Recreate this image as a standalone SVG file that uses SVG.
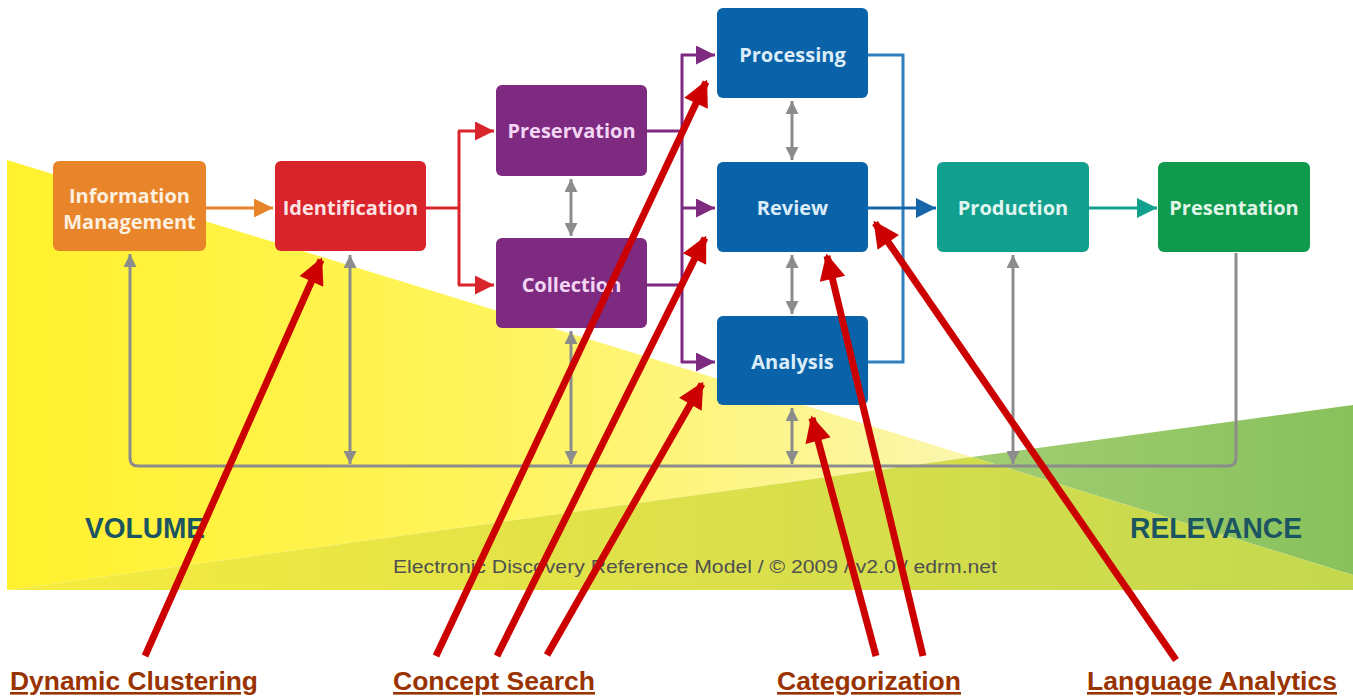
<svg xmlns="http://www.w3.org/2000/svg" width="1353" height="698" viewBox="0 0 1353 698">
<style>
.node rect{rx:6;ry:6}
.nt{font-family:"Open Sans","Liberation Sans",sans-serif;font-weight:700;font-size:20px;text-anchor:middle}
.lbl{font-family:"Liberation Sans",Arial,sans-serif;font-weight:700;font-size:26px;fill:#993300;text-decoration:underline}
.big{font-family:"Liberation Sans",Arial,sans-serif;font-weight:700;font-size:29px;fill:#1b5561}
.gray{stroke:#8c8c8c;stroke-width:3;fill:none}
.ann{stroke:#cc0000;stroke-width:7;fill:none;marker-end:url(#mAnn)}
</style>
<defs>
<linearGradient id="gY" x1="7" y1="0" x2="972" y2="0" gradientUnits="userSpaceOnUse">
<stop offset="0" stop-color="#fff12c"/><stop offset="0.5" stop-color="#fff45c"/><stop offset="1" stop-color="#fbf6ae"/>
</linearGradient>
<linearGradient id="gL" x1="7" y1="0" x2="1353" y2="0" gradientUnits="userSpaceOnUse">
<stop offset="0" stop-color="#f6ec3e"/><stop offset="0.5" stop-color="#dde04a"/><stop offset="1" stop-color="#c3d84e"/>
</linearGradient>
<linearGradient id="gG" x1="972" y1="0" x2="1353" y2="0" gradientUnits="userSpaceOnUse">
<stop offset="0" stop-color="#a2cd72"/><stop offset="1" stop-color="#88c15c"/>
</linearGradient>
<marker id="mOr" viewBox="0 0 10 10" refX="10" refY="5" markerWidth="25" markerHeight="19" markerUnits="userSpaceOnUse" orient="auto"><path d="M0,0 L10,5 L0,10 z" fill="#e8852a"/></marker>
<marker id="mRd" viewBox="0 0 10 10" refX="10" refY="5" markerWidth="25" markerHeight="19" markerUnits="userSpaceOnUse" orient="auto"><path d="M0,0 L10,5 L0,10 z" fill="#d9242b"/></marker>
<marker id="mPu" viewBox="0 0 10 10" refX="10" refY="5" markerWidth="25" markerHeight="19" markerUnits="userSpaceOnUse" orient="auto"><path d="M0,0 L10,5 L0,10 z" fill="#7d2a80"/></marker>
<marker id="mBl" viewBox="0 0 10 10" refX="10" refY="5" markerWidth="26" markerHeight="20" markerUnits="userSpaceOnUse" orient="auto"><path d="M0,0 L10,5 L0,10 z" fill="#1565a8"/></marker>
<marker id="mTe" viewBox="0 0 10 10" refX="10" refY="5" markerWidth="26" markerHeight="20" markerUnits="userSpaceOnUse" orient="auto"><path d="M0,0 L10,5 L0,10 z" fill="#11a08d"/></marker>
<marker id="mGr" viewBox="0 0 10 10" refX="10" refY="5" markerWidth="16" markerHeight="13" markerUnits="userSpaceOnUse" orient="auto-start-reverse"><path d="M0,0 L10,5 L0,10 z" fill="#8c8c8c"/></marker>
<marker id="mAnn" viewBox="0 0 10 10" refX="9" refY="5" markerWidth="30" markerHeight="26" markerUnits="userSpaceOnUse" orient="auto"><path d="M0,0 L10,5 L0,10 z" fill="#cc0000"/></marker>
</defs>
<rect width="1353" height="698" fill="#ffffff"/>
<g id="background">
<polygon points="7,160 972,457 7,590" fill="url(#gY)"/>
<polygon points="972,457 1353,405 1353,575" fill="url(#gG)"/>
<polygon points="7,590 972,457 1353,575 1353,590" fill="url(#gL)"/>
<text class="big" x="85" y="538" textLength="120" lengthAdjust="spacingAndGlyphs">VOLUME</text>
<text class="big" x="1130" y="538" textLength="172" lengthAdjust="spacingAndGlyphs">RELEVANCE</text>
<text x="393" y="573" font-family="Liberation Sans, Arial, sans-serif" font-size="18" fill="#505050" textLength="604" lengthAdjust="spacingAndGlyphs">Electronic Discovery Reference Model / © 2009 / v2.0 / edrm.net</text>
</g>
<g id="connectors">
<path d="M206,208 H273" stroke="#e8852a" stroke-width="3" fill="none" marker-end="url(#mOr)"/>
<path d="M426,208 H459 M459,131 V285" stroke="#d9242b" stroke-width="3" fill="none"/>
<path d="M458,131 H494" stroke="#d9242b" stroke-width="3" fill="none" marker-end="url(#mRd)"/>
<path d="M458,285 H494" stroke="#d9242b" stroke-width="3" fill="none" marker-end="url(#mRd)"/>
<path d="M647,131 H682 M647,285 H682 M682,54 V363" stroke="#7d2a80" stroke-width="3" fill="none"/>
<path d="M681,55 H715" stroke="#7d2a80" stroke-width="3" fill="none" marker-end="url(#mPu)"/>
<path d="M681,208 H715" stroke="#7d2a80" stroke-width="3" fill="none" marker-end="url(#mPu)"/>
<path d="M681,362 H715" stroke="#7d2a80" stroke-width="3" fill="none" marker-end="url(#mPu)"/>
<path d="M868,55 H903 V362 H868" stroke="#2f7fbf" stroke-width="3" fill="none"/>
<path d="M868,208 H936" stroke="#1565a8" stroke-width="3" fill="none" marker-end="url(#mBl)"/>
<path d="M1089,208 H1157" stroke="#11a08d" stroke-width="3" fill="none" marker-end="url(#mTe)"/>
<path class="gray" d="M130,254 V458 Q130,466 138,466 H1228 Q1236,466 1236,458 V253" marker-start="url(#mGr)"/>
<path class="gray" d="M350,255 V464" marker-start="url(#mGr)" marker-end="url(#mGr)"/>
<path class="gray" d="M571,331 V464" marker-start="url(#mGr)" marker-end="url(#mGr)"/>
<path class="gray" d="M792,408 V464" marker-start="url(#mGr)" marker-end="url(#mGr)"/>
<path class="gray" d="M1013,255 V464" marker-start="url(#mGr)" marker-end="url(#mGr)"/>
<path class="gray" d="M571,179 V236" marker-start="url(#mGr)" marker-end="url(#mGr)"/>
<path class="gray" d="M792,101 V160" marker-start="url(#mGr)" marker-end="url(#mGr)"/>
<path class="gray" d="M792,255 V314" marker-start="url(#mGr)" marker-end="url(#mGr)"/>
</g>
<g id="n-info" class="node"><rect x="53" y="161" width="153" height="90" fill="#e8852a"/><text class="nt" fill="#fdf0e0" x="129.5" y="203">Information</text><text class="nt" fill="#fdf0e0" x="129.5" y="229">Management</text></g>
<g id="n-ident" class="node"><rect x="275" y="161" width="151" height="90" fill="#d9242b"/><text class="nt" fill="#fbe3e3" x="350.5" y="215">Identification</text></g>
<g id="n-pres" class="node"><rect x="496" y="85" width="151" height="91" fill="#7d2a80"/><text class="nt" fill="#f3d6f3" x="571.5" y="138">Preservation</text></g>
<g id="n-coll" class="node"><rect x="496" y="238" width="151" height="90" fill="#7d2a80"/><text class="nt" fill="#f3d6f3" x="571.5" y="292">Collection</text></g>
<g id="n-proc" class="node"><rect x="717" y="8" width="151" height="90" fill="#0a63a8"/><text class="nt" fill="#dcecf8" x="792.5" y="62">Processing</text></g>
<g id="n-rev" class="node"><rect x="717" y="162" width="151" height="90" fill="#0a63a8"/><text class="nt" fill="#dcecf8" x="792.5" y="215">Review</text></g>
<g id="n-anal" class="node"><rect x="717" y="316" width="151" height="89" fill="#0a63a8"/><text class="nt" fill="#dcecf8" x="792.5" y="369">Analysis</text></g>
<g id="n-prod" class="node"><rect x="937" y="162" width="152" height="90" fill="#11a08d"/><text class="nt" fill="#e0f5f1" x="1013" y="215">Production</text></g>
<g id="n-presn" class="node"><rect x="1158" y="162" width="152" height="90" fill="#0f9a4d"/><text class="nt" fill="#e0f5e8" x="1234" y="215">Presentation</text></g>
<g id="annotations">
<path class="ann" d="M145,656 L321,260"/>
<path class="ann" d="M436,656 L706,82"/>
<path class="ann" d="M497,656 L705,238"/>
<path class="ann" d="M547,655 L702,384"/>
<path class="ann" d="M876,656 L812,418"/>
<path class="ann" d="M923,656 L827,256"/>
<path class="ann" d="M1176,660 L875,223"/>
</g>
<g id="labels">
<text class="lbl" x="10" y="690" textLength="248" lengthAdjust="spacingAndGlyphs">Dynamic Clustering</text>
<text class="lbl" x="393" y="690" textLength="202" lengthAdjust="spacingAndGlyphs">Concept Search</text>
<text class="lbl" x="777" y="690" textLength="184" lengthAdjust="spacingAndGlyphs">Categorization</text>
<text class="lbl" x="1087" y="690" textLength="250" lengthAdjust="spacingAndGlyphs">Language Analytics</text>
</g>
</svg>
